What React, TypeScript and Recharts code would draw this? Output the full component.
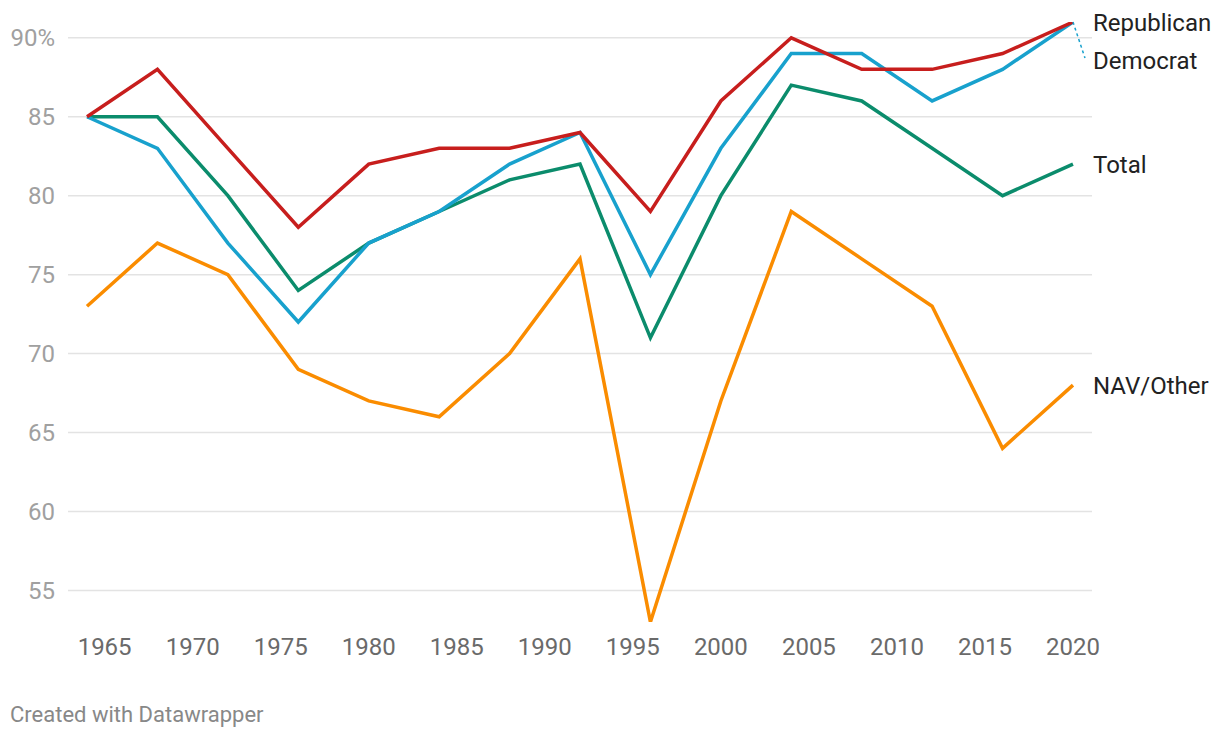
import { LineChart, Line, XAxis, YAxis, ReferenceLine } from "recharts";

const years = [1964, 1968, 1972, 1976, 1980, 1984, 1988, 1992, 1996, 2000, 2004, 2008, 2012, 2016, 2020];
const republican = [85, 88, 83, 78, 82, 83, 83, 84, 79, 86, 90, 88, 88, 89, 91];
const democrat = [85, 83, 77, 72, 77, 79, 82, 84, 75, 83, 89, 89, 86, 88, 91];
const total = [85, 85, 80, 74, 77, 79, 81, 82, 71, 80, 87, 86, 83, 80, 82];
const navOther = [73, 77, 75, 69, 67, 66, 70, 76, 53, 67, 79, 76, 73, 64, 68];

const xTicks = [1965, 1970, 1975, 1980, 1985, 1990, 1995, 2000, 2005, 2010, 2015, 2020];
const yTicks = [55, 60, 65, 70, 75, 80, 85, 90];

const series = [
  { key: "total", name: "Total", color: "#0b8c6c", values: total },
  { key: "navOther", name: "NAV/Other", color: "#fa8c00", values: navOther },
  { key: "democrat", name: "Democrat", color: "#18a1cd", values: democrat },
  { key: "republican", name: "Republican", color: "#c71e1d", values: republican },
];

const rows = years.map((year, i) => {
  const row: Record<string, number> = { year };
  series.forEach((s) => {
    row[s.key] = s.values[i];
  });
  return row;
});

const LAST = years.length - 1;
const FONT = "Roboto, sans-serif";

const endLabel = (name: string, color: string) => (props: any) => {
  const { x, y, index } = props;
  if (index !== LAST) return null;
  if (name === "Democrat") {
    return (
      <g>
        <line x1={x} y1={y} x2={x + 12} y2={y + 36} stroke={color} strokeWidth={1.5} strokeDasharray="3 3" />
        <text x={x + 20} y={y + 38} dy="0.355em" fontSize={24} fill="#222" fontFamily={FONT}>
          {name}
        </text>
      </g>
    );
  }
  return (
    <text x={x + 20} y={y} dy="0.355em" fontSize={24} fill="#222" fontFamily={FONT}>
      {name}
    </text>
  );
};

const App = () => {
  return (
    <div style={{ position: "absolute", left: 0, top: 0, width: 1220, height: 738, background: "#fff", fontFamily: FONT }}>
      <LineChart width={1220} height={670} data={rows} margin={{ top: 22, right: 128, left: 10, bottom: 0 }}>
        <XAxis
          dataKey="year"
          type="number"
          domain={[1962.92, 2021.08]}
          ticks={xTicks}
          axisLine={false}
          tickLine={false}
          tickSize={0}
          tickMargin={16}
          height={48}
          tick={{ fontSize: 24, fill: "#6a6a6a", fontFamily: FONT }}
        />
        <YAxis
          domain={[53, 91]}
          ticks={yTicks}
          allowDataOverflow
          axisLine={false}
          tickLine={false}
          tickSize={0}
          tickMargin={13}
          width={58}
          tickFormatter={(v: number) => (v === 90 ? "90%" : String(v))}
          tick={{ fontSize: 24, fill: "#a0a0a0", fontFamily: FONT }}
        />
        {yTicks.map((v) => (
          <ReferenceLine key={v} y={v} stroke="#e3e3e3" strokeWidth={1.5} />
        ))}
        {series.map((s) => (
          <Line
            key={s.key}
            dataKey={s.key}
            name={s.name}
            type="linear"
            stroke={s.color}
            strokeWidth={3.5}
            dot={false}
            activeDot={false}
            isAnimationActive={false}
            label={endLabel(s.name, s.color)}
          />
        ))}
      </LineChart>
      <svg width={1220} height={68} style={{ position: "absolute", left: 0, top: 670 }}>
        <text x={10} y={52} fontSize={22} fill="#888" fontFamily={FONT}>
          Created with Datawrapper
        </text>
      </svg>
    </div>
  );
};

export default App;
